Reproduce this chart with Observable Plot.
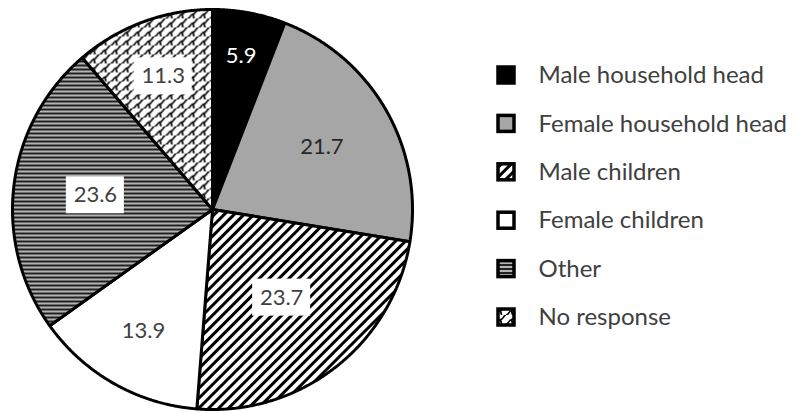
<!DOCTYPE html>
<html><head><meta charset="utf-8">
<script src="https://cdn.jsdelivr.net/npm/d3@7"></script>
<script src="https://cdn.jsdelivr.net/npm/@observablehq/plot@0.6"></script>
<style>body{margin:0;background:#fff} svg{display:block}</style>
</head><body><div id="chart"></div>
<script>
// ---- data ----
const categories = ["Male household head","Female household head","Male children","Female children","Other","No response"];
const values = [5.9, 21.7, 23.7, 13.9, 23.6, 11.3];
const labels = ["5.9","21.7","23.7","13.9","23.6","11.3"];

// ---- styles ----
const fills = ["#000000","#a6a6a6","url(#p-diag)","#ffffff","url(#p-horiz)","url(#p-shingle)"];
const labelColors = ["#ffffff","#262626","#404040","#404040","#404040","#404040"];
const labelBox = [false,false,true,false,true,true];
const labelR = [0.78,0.63,0.56,0.70,0.59,0.71];

const W = 795, H = 413, CX = 212, CY = 209, R = 200;
const dx = p => (p - CX) / R, dy = p => (CY - p) / R;

const total = d3.sum(values);
let acc = 0;
const slices = values.map((v, i) => {
  const a0 = acc / total * 2 * Math.PI; acc += v;
  const a1 = acc / total * 2 * Math.PI;
  return {i, cat: categories[i], v, a0, a1, m: (a0 + a1) / 2};
});
const slicePts = slices.map(s => {
  const p = [{x: 0, y: 0}];
  const n = Math.max(4, Math.ceil((s.a1 - s.a0) / 0.005));
  for (let k = 0; k <= n; k++) { const a = s.a0 + (s.a1 - s.a0) * k / n; p.push({x: Math.sin(a), y: Math.cos(a)}); }
  p.push({x: 0, y: 0});
  return p;
});
const lab = slices.map(s => ({...s, lx: labelR[s.i] * Math.sin(s.m), ly: labelR[s.i] * Math.cos(s.m), txt: labels[s.i]}));
const boxW = 58 / R, boxH = 37 / R;

const leg = categories.map((c, i) => ({c, i, y: dy(75 + 48.4 * i)}));
const sq = 8 / R;

const marks = [];
slices.forEach((s, i) => marks.push(Plot.line(slicePts[i], {x: "x", y: "y", fill: fills[i], stroke: "#000", strokeWidth: 3, strokeLinejoin: "miter", curve: "linear"})));
marks.push(Plot.rect(lab.filter(d => labelBox[d.i]), {x1: d => d.lx - boxW/2, x2: d => d.lx + boxW/2, y1: d => d.ly - boxH/2, y2: d => d.ly + boxH/2, fill: "#fff"}));
marks.push(Plot.text(lab, {x: "lx", y: "ly", text: "txt", fill: d => labelColors[d.i], fontSize: 22}));
categories.forEach((c, i) => marks.push(Plot.rect([leg[i]], {x1: dx(506) - sq, x2: dx(506) + sq, y1: d => d.y - sq, y2: d => d.y + sq, fill: fills[i], stroke: "#000", strokeWidth: 3.5})));
marks.push(Plot.text(leg, {x: dx(538), y: "y", text: "c", textAnchor: "start", fill: "#404040", fontSize: 24}));

const chart = Plot.plot({
  width: W, height: H, margin: 0,
  style: {fontFamily: "Lato, 'Open Sans', sans-serif", background: "#fff"},
  x: {domain: [dx(0), dx(W)], axis: null},
  y: {domain: [dy(H), dy(0)], axis: null},
  color: {type: "identity"},
  marks
});
const defs = d3.select(chart).insert("defs", ":first-child");
const pd = defs.append("pattern").attr("id", "p-diag").attr("patternUnits", "userSpaceOnUse").attr("width", 7).attr("height", 7).attr("patternTransform", "rotate(45)");
pd.append("rect").attr("width", 7).attr("height", 7).attr("fill", "#fff");
pd.append("rect").attr("width", 3).attr("height", 7).attr("fill", "#000");
const ph = defs.append("pattern").attr("id", "p-horiz").attr("patternUnits", "userSpaceOnUse").attr("width", 4).attr("height", 4);
ph.append("rect").attr("width", 4).attr("height", 4).attr("fill", "#b4b4b4");
ph.append("rect").attr("width", 4).attr("height", 2).attr("fill", "#222");
const ps = defs.append("pattern").attr("id", "p-shingle").attr("patternUnits", "userSpaceOnUse").attr("width", 11).attr("height", 9);
ps.append("rect").attr("width", 11).attr("height", 9).attr("fill", "#fff");
ps.append("path").attr("d", "M0,9 C3,9 3,4.5 5.5,4.5 C8.5,4.5 8.5,0 11,0 M5.5,4.5 L6.5,9 M-1,0 L0,0 M11,9 L12,9").attr("fill", "none").attr("stroke", "#000").attr("stroke-width", 1.7);
document.getElementById("chart").append(chart);
</script></body></html>
